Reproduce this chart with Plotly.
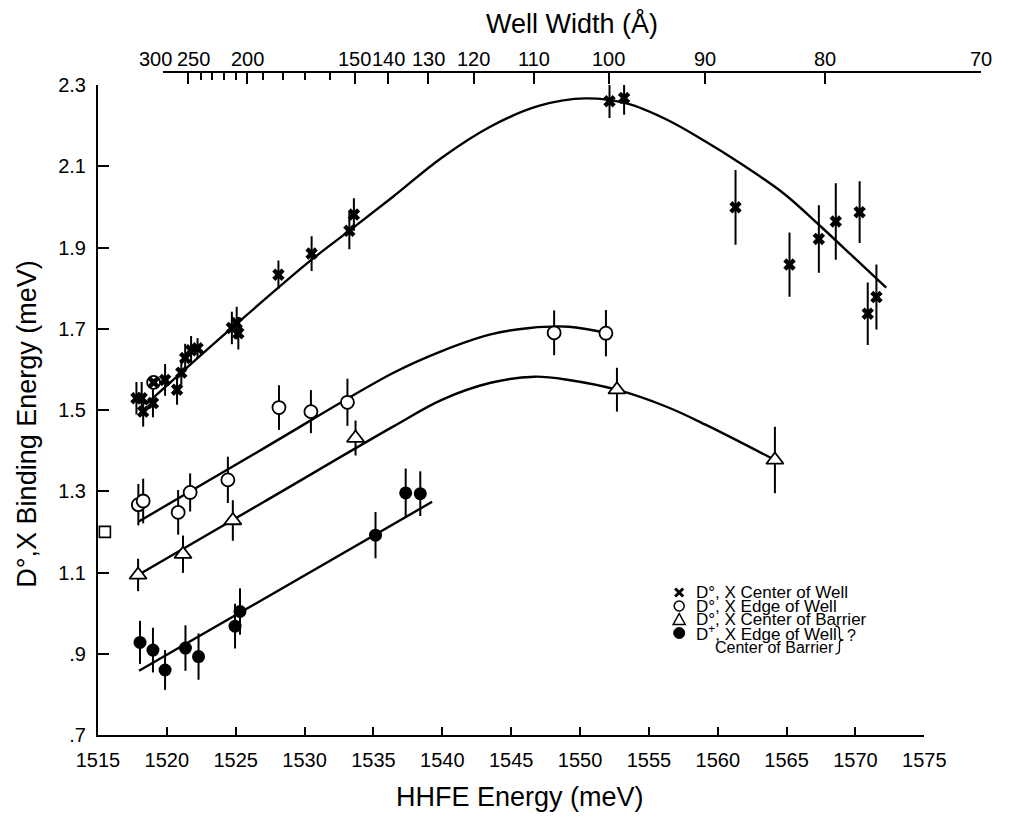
import plotly.graph_objects as go

# ---------------- measured binding energies ----------------
# D°,X  centre of well:  HHFE energy (meV), binding energy (meV), error (meV)
cw_e = [1517.79, 1518.17, 1518.28, 1518.99, 1519.04, 1519.87, 1520.74, 1521.05, 1521.33,
        1521.76, 1522.23, 1524.72, 1525.07, 1525.19, 1528.10, 1530.51, 1533.25, 1533.58,
        1552.14, 1553.20, 1561.29, 1565.21, 1567.34, 1568.57, 1570.30, 1570.89, 1571.52]
cw_b = [1.529, 1.529, 1.496, 1.517, 1.568, 1.574, 1.550, 1.592, 1.628,
        1.647, 1.652, 1.702, 1.714, 1.689, 1.833, 1.885, 1.941, 1.981,
        2.260, 2.268, 1.999, 1.858, 1.921, 1.964, 1.987, 1.737, 1.778]
cw_err = [0.040, 0.040, 0.037, 0.035, 0.0, 0.039, 0.037, 0.030, 0.035,
          0.035, 0.025, 0.040, 0.040, 0.040, 0.035, 0.043, 0.045, 0.040,
          0.041, 0.041, 0.092, 0.079, 0.083, 0.094, 0.076, 0.077, 0.080]

# D°,X  edge of well
ew_e = [1517.93, 1518.28, 1519.04, 1520.82, 1521.69, 1524.43, 1528.14, 1530.46, 1533.11,
        1548.12, 1551.88]
ew_b = [1.267, 1.276, 1.568, 1.248, 1.297, 1.328, 1.506, 1.496, 1.519,
        1.690, 1.689]
ew_err = [0.051, 0.055, 0.0, 0.055, 0.047, 0.057, 0.055, 0.053, 0.058,
          0.055, 0.057]

# D°,X  centre of barrier
cb_e = [1517.91, 1521.17, 1524.79, 1533.70, 1552.68, 1564.15]
cb_b = [1.094, 1.145, 1.228, 1.431, 1.550, 1.377]
cb_err = [0.040, 0.046, 0.050, 0.043, 0.054, 0.082]

# D+,X  edge of well / centre of barrier
dp_e = [1518.05, 1518.99, 1519.87, 1521.35, 1522.30, 1524.95, 1525.31, 1535.15, 1537.34, 1538.40]
dp_b = [0.928, 0.909, 0.860, 0.914, 0.893, 0.968, 1.004, 1.192, 1.296, 1.294]
dp_err = [0.053, 0.055, 0.049, 0.056, 0.057, 0.055, 0.057, 0.057, 0.060, 0.055]

# bulk reference value
bulk_e = [1515.5]
bulk_b = [1.20]

# ---------------- guide curves ----------------
cw_fit_e = [1518.45, 1521.05, 1524.72, 1530.51, 1533.35, 1536.42, 1539.96, 1543.51, 1547.06,
            1550.39, 1553.44, 1556.28, 1559.11, 1561.24, 1564.79, 1567.34, 1569.75, 1572.23]
cw_fit_b = [1.513, 1.592, 1.702, 1.870, 1.944, 2.025, 2.121, 2.198, 2.249,
            2.267, 2.254, 2.215, 2.161, 2.116, 2.033, 1.956, 1.880, 1.801]

ew_fit_e = [1517.93, 1527.00, 1536.42, 1539.96, 1543.51, 1546.35, 1549.18, 1551.88]
ew_fit_b = [1.225, 1.405, 1.591, 1.645, 1.686, 1.702, 1.705, 1.690]

cb_fit_e = [1517.91, 1527.00, 1536.42, 1539.96, 1543.51, 1546.70, 1549.18, 1552.66,
            1556.28, 1559.11, 1564.15]
cb_fit_b = [1.094, 1.273, 1.459, 1.525, 1.567, 1.582, 1.574, 1.550,
            1.508, 1.464, 1.377]

dp_fit_e = [1517.98, 1539.26]
dp_fit_b = [0.858, 1.274]

# ---------------- axes ----------------
x_ticks = [1515, 1520, 1525, 1530, 1535, 1540, 1545, 1550, 1555, 1560, 1565, 1570, 1575]
y_ticks = [0.7, 0.9, 1.1, 1.3, 1.5, 1.7, 1.9, 2.1, 2.3]
y_ticktext = [".7", ".9", "1.1", "1.3", "1.5", "1.7", "1.9", "2.1", "2.3"]

# well width scale: width (Å) and the HHFE energy it corresponds to
width_major = [300, 250, 200, 150, 140, 130, 120, 110, 100, 90, 80, 70]
width_major_e = [1519.76, 1521.52, 1525.85, 1533.65, 1536.06, 1538.97, 1542.30, 1546.63,
                 1552.09, 1559.04, 1567.77, 1579.10]
width_minor = [240, 230, 220, 210, 190, 180, 170, 160]
width_minor_e = [1522.45, 1523.30, 1524.15, 1525.00, 1526.99, 1528.40, 1530.04, 1531.81]

# ---------------- page geometry (px) ----------------
W, H = 1015, 816
L, R, T, B = 98, 13, 72, 81
PW, PH = W - L - R, H - T - B
X_LEN = 846          # bottom axis length
Y_LEN = 650          # left axis length
TOP_START = 67       # offset of the well-width axis start from the left axis
mev_px = (x_ticks[-1] - x_ticks[0]) / X_LEN
top_range = [x_ticks[0] + TOP_START * mev_px, x_ticks[0] + PW * mev_px]


def px(x):
    return (x - L) / PW


def py(y):
    return (H - B - y) / PH


FONT = "Liberation Sans, Arial, Helvetica, sans-serif"

fig = go.Figure()

for fx, fy in [(cw_fit_e, cw_fit_b), (ew_fit_e, ew_fit_b), (cb_fit_e, cb_fit_b), (dp_fit_e, dp_fit_b)]:
    fig.add_trace(go.Scatter(x=fx, y=fy, mode="lines", hoverinfo="skip",
                             line=dict(color="black", width=2.4, shape="spline", smoothing=1.0)))


def points(x, y, err, symbol, size, fill, lw):
    return go.Scatter(
        x=x, y=y, mode="markers", cliponaxis=False,
        error_y=dict(type="data", array=err, visible=True, color="black", thickness=2, width=0),
        marker=dict(symbol=symbol, size=size, color=fill, line=dict(color="black", width=lw)))


fig.add_trace(points(ew_e, ew_b, ew_err, "circle", 13, "white", 1.8))
fig.add_trace(points(cb_e, cb_b, cb_err, "triangle-up", 15, "white", 1.8))
fig.add_trace(points(dp_e, dp_b, dp_err, "circle", 13, "black", 0))
fig.add_trace(points(cw_e, cw_b, cw_err, "x", 11, "black", 0))
fig.add_trace(go.Scatter(x=bulk_e, y=bulk_b, mode="markers", cliponaxis=False,
                         marker=dict(symbol="square", size=11, color="white",
                                     line=dict(color="black", width=1.6))))
# carrier for the well-width axis
fig.add_trace(go.Scatter(x=[], y=[], xaxis="x2", yaxis="y", hoverinfo="skip"))

axis_common = dict(showline=True, linecolor="black", linewidth=2, showgrid=False, zeroline=False,
                   ticks="inside", tickcolor="black", tickwidth=2,
                   tickfont=dict(family=FONT, size=20, color="black"))

fig.update_layout(
    width=W, height=H, margin=dict(l=L, r=R, t=T, b=B),
    paper_bgcolor="white", plot_bgcolor="rgba(0,0,0,0)", showlegend=False,
    xaxis=dict(domain=[0, X_LEN / PW], range=[x_ticks[0], x_ticks[-1]], anchor="y",
               tickmode="array", tickvals=x_ticks, ticklen=8, tickangle=0,
               ticklabelstandoff=6, **axis_common),
    yaxis=dict(domain=[0, Y_LEN / PH], range=[y_ticks[0], y_ticks[-1]], anchor="x",
               tickmode="array", tickvals=y_ticks, ticktext=y_ticktext, ticklen=11,
               ticklabelstandoff=6, **axis_common),
    xaxis2=dict(domain=[TOP_START / PW, 1], range=top_range, anchor="free", position=1,
                side="top", tickmode="array", tickvals=width_major_e, ticklen=11,
                showticklabels=False,
                minor=dict(tickmode="array", tickvals=width_minor_e, ticks="inside",
                           ticklen=7, tickwidth=2, tickcolor="black", showgrid=False),
                **axis_common),
)

ann = []
# well-width tick labels
for w, e in zip(width_major, width_major_e):
    shift = {300: -8, 250: 6}.get(w, 0)
    ann.append(dict(x=e, y=1, xref="x2", yref="paper", text=str(w), showarrow=False,
                    xanchor="center", yanchor="bottom", xshift=shift, yshift=0,
                    font=dict(family=FONT, size=20, color="black")))

# axis titles
title_font = dict(family=FONT, size=27, color="black")
ann.append(dict(x=px(583), y=py(23), xref="paper", yref="paper", text="Well Width (Å)",
                xanchor="center", yanchor="middle", showarrow=False, font=title_font))
ann.append(dict(x=px(530), y=py(797), xref="paper", yref="paper", text="HHFE Energy (meV)",
                xanchor="center", yanchor="middle", showarrow=False, font=title_font))
ann.append(dict(x=px(25), y=py(424), xref="paper", yref="paper",
                text="D°,X Binding Energy (meV)", textangle=-90,
                xanchor="center", yanchor="middle", showarrow=False, font=title_font))

# key
key_rows = [592.5, 606, 619.5, 633, 647]
key_text = ["D°, X Center of Well", "D°, X Edge of Well", "D°, X Center of Barrier",
            "D<sup>+</sup>, X Edge of Well", "Center of Barrier"]
key_x = [708, 708, 708, 708, 728]
key_size = [17, 17, 17, 17, 16]
for t, yy, xx, fs in zip(key_text, key_rows, key_x, key_size):
    ann.append(dict(x=px(xx), y=py(yy), xref="paper", yref="paper", text=t, showarrow=False,
                    xanchor="left", yanchor="middle",
                    font=dict(family=FONT, size=fs, color="black")))
ann.append(dict(x=px(863), y=py(635), xref="paper", yref="paper", text="?", showarrow=False,
                xanchor="left", yanchor="middle",
                font=dict(family=FONT, size=16, color="black")))
fig.update_layout(annotations=ann)

# key symbols
sx = px(693)
pix = dict(xref="paper", yref="paper", xsizemode="pixel", ysizemode="pixel", xanchor=sx)
shapes = []
r0 = py(key_rows[0])
shapes += [dict(type="line", yanchor=r0, x0=-4, x1=4, y0=-4, y1=4,
                line=dict(color="black", width=3), **pix),
           dict(type="line", yanchor=r0, x0=-4, x1=4, y0=4, y1=-4,
                line=dict(color="black", width=3), **pix)]
shapes.append(dict(type="circle", yanchor=py(key_rows[1]), x0=-5, x1=5, y0=-5, y1=5,
                   line=dict(color="black", width=1.5), fillcolor="white", **pix))
shapes.append(dict(type="path", yanchor=py(key_rows[2]), path="M-6,-5 L6,-5 L0,6 Z",
                   line=dict(color="black", width=1.5), fillcolor="white", **pix))
shapes.append(dict(type="circle", yanchor=py(key_rows[3]), x0=-5.5, x1=5.5, y0=-5.5, y1=5.5,
                   line=dict(color="black", width=1), fillcolor="black", **pix))
# brace grouping the last key entry
shapes.append(dict(type="path", xref="paper", yref="paper", xsizemode="pixel", ysizemode="pixel",
                   xanchor=px(853), yanchor=py(640),
                   path="M0,14 Q4,14 4,10 L4,3 Q4,0 8,0 Q4,0 4,-3 L4,-10 Q4,-14 0,-14",
                   line=dict(color="black", width=1.3)))
fig.update_layout(shapes=shapes)

fig.write_html("out.html")
